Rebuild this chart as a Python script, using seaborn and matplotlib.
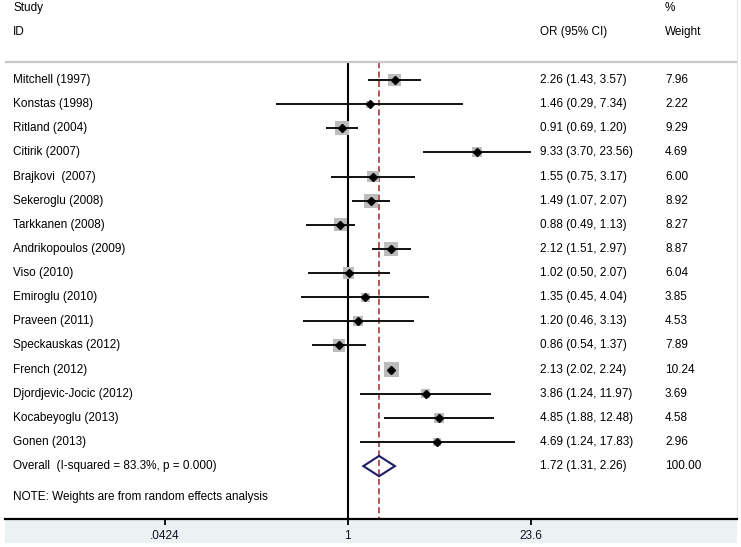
import numpy as np
import pandas as pd
import matplotlib
matplotlib.use("Agg")
import matplotlib.pyplot as plt
import matplotlib.transforms as mtransforms
from matplotlib.patches import Rectangle
from matplotlib.ticker import NullLocator
import seaborn as sns

# ---------------- data ----------------
studies = ["Mitchell (1997)", "Konstas (1998)", "Ritland (2004)", "Citirik (2007)",
           "Brajkovi  (2007)", "Sekeroglu (2008)", "Tarkkanen (2008)", "Andrikopoulos (2009)",
           "Viso (2010)", "Emiroglu (2010)", "Praveen (2011)", "Speckauskas (2012)",
           "French (2012)", "Djordjevic-Jocic (2012)", "Kocabeyoglu (2013)", "Gonen (2013)"]
odds_ratio = [2.26, 1.46, 0.91, 9.33, 1.55, 1.49, 0.88, 2.12, 1.02, 1.35, 1.20, 0.86, 2.13, 3.86, 4.85, 4.69]
ci_lower = [1.43, 0.29, 0.69, 3.70, 0.75, 1.07, 0.49, 1.51, 0.50, 0.45, 0.46, 0.54, 2.02, 1.24, 1.88, 1.24]
ci_upper = [3.57, 7.34, 1.20, 23.56, 3.17, 2.07, 1.13, 2.97, 2.07, 4.04, 3.13, 1.37, 2.24, 11.97, 12.48, 17.83]
weights = [7.96, 2.22, 9.29, 4.69, 6.00, 8.92, 8.27, 8.87, 6.04, 3.85, 4.53, 7.89, 10.24, 3.69, 4.58, 2.96]

overall_label = "Overall  (I-squared = 83.3%, p = 0.000)"
overall_or = 1.72
overall_lo = 1.31
overall_hi = 2.26
overall_weight = 100.00

tick_values = [0.0424, 1, 23.6]
tick_labels = [".0424", "1", "23.6"]
note_text = "NOTE: Weights are from random effects analysis"

# ---------------- style ----------------
sns.set_theme(style="white")
plt.rcParams["font.family"] = ["Liberation Sans", "DejaVu Sans"]
FS = 8.5

W, H = 741, 547
fig = plt.figure(figsize=(W / 100, H / 100), dpi=100)
fig.patch.set_facecolor("white")

# axes spans pixel x 5..737, y 0..519
ax = fig.add_axes([5 / W, (H - 519) / H, 732 / W, 519 / H])
ax.set_facecolor("white")

df = pd.DataFrame({"study": studies, "or": odds_ratio, "lo": ci_lower,
                   "hi": ci_upper, "weight": weights})
df["row"] = np.arange(len(df))
n = len(df)
overall_row = n
note_row = n + 1.28

# x scale: ln 0 at px 347.7, 57.9 px per ln unit
px0, ppl = 347.7, 57.9
ax.set_xscale("log")
ax.set_xlim(np.exp((5 - px0) / ppl), np.exp((737 - px0) / ppl))
# y scale: row i at pixel 80 + 24.13 i
rp0, rstep = 80.0, 24.13
ax.set_ylim((519 - rp0) / rstep, (0 - rp0) / rstep)
top_line_row = (62 - rp0) / rstep
ybot = (519 - rp0) / rstep

# weight squares
wmax = 12.0
sns.scatterplot(data=df, x="or", y="row", size="weight", sizes=(0, 10.96 * wmax),
                size_norm=(0, wmax), marker="s", color="#bcbcbc", linewidth=0,
                legend=False, ax=ax, zorder=2)
# CI lines
ax.hlines(df["row"], df["lo"], df["hi"], color="#111111", lw=1.4, zorder=3)
# point estimates
ax.plot(df["or"], df["row"], linestyle="none", marker="D", color="black",
        markersize=3.6, zorder=4)

# overall diamond
dh = 0.42
ax.fill([overall_lo, overall_or, overall_hi, overall_or],
        [overall_row, overall_row - dh, overall_row, overall_row + dh],
        facecolor="none", edgecolor="#1c1c6b", lw=1.5, zorder=4)

# reference lines
ax.vlines(1, top_line_row, ybot, color="black", lw=1.5, zorder=1)
ax.vlines(overall_or, top_line_row, ybot, colors="#9b2a2e",
          linestyles=(0, (4, 2.2)), lw=1.1, zorder=1)
ax.axhline(top_line_row, color="#c8c8c8", lw=1.6, zorder=1)

# axes styling
for s in ["top", "left"]:
    ax.spines[s].set_visible(False)
ax.spines["right"].set_color("#e6e6e6")
ax.spines["right"].set_linewidth(0.8)
ax.spines["bottom"].set_color("black")
ax.spines["bottom"].set_linewidth(1.6)
ax.set_xticks(tick_values)
ax.set_xticklabels(tick_labels)
ax.xaxis.set_minor_locator(NullLocator())
ax.tick_params(axis="x", bottom=True, direction="out", length=4.5, width=1.3,
               color="black", pad=3.5, labelsize=FS, labelcolor="#111122")
ax.set_yticks([])
ax.set_xlabel("")
ax.set_ylabel("")

# light strip below the axis
fig.add_artist(Rectangle((5 / W, (H - 543) / H), 732 / W, 24 / H,
                         transform=fig.transFigure, facecolor="#eaf2f3",
                         edgecolor="none", zorder=-1))

# text columns
tr = mtransforms.blended_transform_factory(fig.transFigure, ax.transData)
x_study, x_or, x_w = 13 / W, 540 / W, 665 / W
hdr1 = (8 - rp0) / rstep
hdr2 = (32 - rp0) / rstep
kw = dict(transform=tr, fontsize=FS, va="center", ha="left", color="black")
ax.text(x_study, hdr1, "Study", **kw)
ax.text(x_study, hdr2, "ID", **kw)
ax.text(x_or, hdr2, "OR (95% CI)", **kw)
ax.text(x_w, hdr1, "%", **kw)
ax.text(x_w, hdr2, "Weight", **kw)

for _, r in df.iterrows():
    ax.text(x_study, r["row"], r["study"], **kw)
    ax.text(x_or, r["row"], f"{r['or']:.2f} ({r['lo']:.2f}, {r['hi']:.2f})", **kw)
    ax.text(x_w, r["row"], f"{r['weight']:.2f}", **kw)

ax.text(x_study, overall_row, overall_label, **kw)
ax.text(x_or, overall_row, f"{overall_or:.2f} ({overall_lo:.2f}, {overall_hi:.2f})", **kw)
ax.text(x_w, overall_row, f"{overall_weight:.2f}", **kw)
ax.text(x_study, note_row, note_text, **kw)

fig.savefig("out.png", dpi=100)
